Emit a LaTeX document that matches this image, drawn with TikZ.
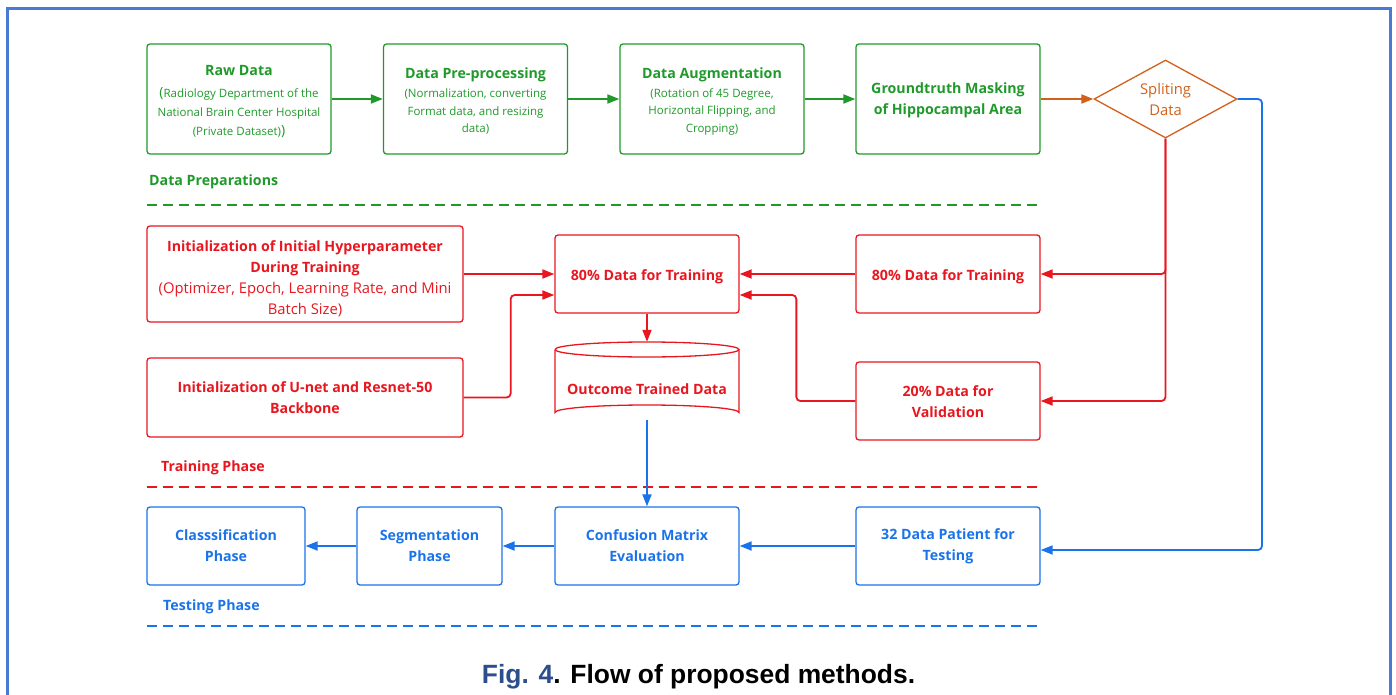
\documentclass[tikz,border=0pt]{standalone}
\usepackage{fontspec}
\setmainfont{Open Sans}
\newfontfamily\capfont{Liberation Sans}
\usetikzlibrary{arrows.meta,shapes.geometric}
\definecolor{cgreen}{HTML}{1F9A2A}
\definecolor{cred}{HTML}{E8161E}
\definecolor{cblue}{HTML}{1A73E8}
\definecolor{corange}{HTML}{D2601A}
\definecolor{cframe}{HTML}{4A7BD3}
\definecolor{cfig}{HTML}{2D4E8C}
\newcommand\tfont{\bfseries\fontsize{14.2}{21}\selectfont}
\newcommand\subfont{\fontsize{11.5}{19}\selectfont}
\newcommand\subfontb{\fontsize{11.5}{17.5}\selectfont}
\newcommand\up[1]{\rule{0pt}{#1pt}}
\tikzset{
  box/.style={draw, rounded corners=3pt, line width=1.3pt, align=center, inner sep=0pt},
  gbox/.style={box, draw=cgreen, text=cgreen, minimum width=184pt, minimum height=110pt},
  rbox/.style={box, draw=cred, text=cred, font=\tfont},
  bbox/.style={box, draw=cblue, text=cblue, font=\tfont, minimum height=78pt},
  conn/.style={line width=1.8pt, rounded corners=4pt, -{Triangle[length=12pt,width=9pt]}},
  phaselabel/.style={anchor=west, inner sep=0pt, font=\tfont},
  sep/.style={line width=2.4pt, dash pattern=on 10pt off 6pt}
}
\begin{document}
\begin{tikzpicture}[x=1pt,y=-1pt]
\useasboundingbox (0,0) rectangle (1396,695);
% outer frame
\draw[cframe, line width=2.4pt] (7.5,700) -- (7.5,8.5) -- (1390.5,8.5) -- (1390.5,700);

% ---- Data preparations ----
\node[gbox, font=\subfont] (raw) at (239,99)
  {{\tfont\up{16}Raw Data}\\[3pt]{\fontsize{14}{19}\selectfont(}Radiology Department of the\\National Brain Center Hospital\\(Private Dataset){\fontsize{14}{19}\selectfont)}};
\node[gbox, font=\subfontb] (pre) at (475.5,99)
  {{\tfont\up{15}Data Pre-processing}\\[1.5pt](Normalization, converting\\Format data, and resizing\\data)};
\node[gbox, font=\subfontb] (aug) at (712,99)
  {{\tfont\up{15}Data Augmentation}\\[1.5pt](Rotation of 45 Degree,\\Horizontal Flipping, and\\Cropping)};
\node[gbox, font=\tfont] (gt) at (948,99)
  {\up{12.5}Groundtruth Masking\\of Hippocampal Area};
\node[draw=corange, text=corange, diamond, line width=1.3pt, inner sep=0pt,
      minimum width=143pt, minimum height=78pt, aspect=1.83, align=center,
      font=\fontsize{14.8}{21}\selectfont] (split) at (1165.5,99) {Spliting\\Data};

\draw[conn, cgreen] (raw.east) -- (pre.west);
\draw[conn, cgreen] (pre.east) -- (aug.west);
\draw[conn, cgreen] (aug.east) -- (gt.west);
\draw[conn, corange] (gt.east) -- (split.west);

\node[phaselabel, text=cgreen] (lprep) at (149,182) {Data Preparations};
\coordinate (gsa) at (147,205);
\coordinate (gsb) at (1040,205);
\draw[sep, cgreen] (gsa) -- (gsb);

% ---- Training phase ----
\node[rbox, minimum width=316pt, minimum height=96pt] (hyp) at (305,274)
  {\up{20}Initialization of Initial Hyperparameter\\During Training\\{\mdseries\fontsize{14.8}{21}\selectfont (Optimizer, Epoch, Learning Rate, and Mini}\\{\mdseries\fontsize{14.8}{21}\selectfont Batch Size)}};
\node[rbox, minimum width=316pt, minimum height=79pt] (unet) at (305,397.5)
  {Initialization of U-net and Resnet-50\\Backbone};
\node[rbox, minimum width=184pt, minimum height=78pt] (trc) at (647,274) {\up{16.2}80\% Data for Training};
\node[rbox, minimum width=184pt, minimum height=78pt] (trr) at (948,274) {\up{16.2}80\% Data for Training};
\node[rbox, minimum width=184pt, minimum height=78pt] (val) at (948,401) {\up{12.5}20\% Data for\\Validation};
% cylinder
\node[inner sep=0pt, minimum width=184pt, minimum height=62pt, text=cred, font=\tfont] (cyl) at (647,389) {Outcome Trained Data};
\draw[cred, line width=1.3pt] (555,349.5) arc[start angle=180, end angle=-180, x radius=92, y radius=7.5];
\draw[cred, line width=1.3pt] (555,349.5) -- (555,412.5) arc[start angle=180, end angle=360, x radius=92, y radius=7.5] -- (739,349.5);

\draw[conn, cred] (hyp.east) -- (trc.west);
\draw[conn, cred] (unet.east) -- ++(47,0) |- ([yshift=-21pt]trc.west);
\draw[conn, cred] (trc.south) -- ([yshift=16pt]cyl.north);
\draw[conn, cred] (trr.west) -- (trc.east);
\draw[conn, cred] (val.west) -- ++(-59,0) |- ([yshift=-21pt]trc.east);
\draw[conn, cred] (split.south) |- (trr.east);
\draw[conn, cred] (split.south) |- (val.east);

\node[phaselabel, text=cred] (ltrain) at (161,468) {Training Phase};
\coordinate (rsa) at (147,487);
\coordinate (rsb) at (1040,487);
\draw[sep, cred] (rsa) -- (rsb);

% ---- Testing phase ----
\node[bbox, minimum width=158pt] (cls) at (226,546) {Classsification\\Phase};
\node[bbox, minimum width=145pt] (seg) at (429.5,546) {Segmentation\\Phase};
\node[bbox, minimum width=184pt] (conf) at (647,546) {Confusion Matrix\\Evaluation};
\node[bbox, minimum width=184pt] (test) at (948,546) {\up{12}32 Data Patient for\\Testing};

\draw[conn, cblue] (cyl.south) -- (conf.north);
\draw[conn, cblue] (test.west) -- (conf.east);
\draw[conn, cblue] (conf.west) -- (seg.east);
\draw[conn, cblue] (seg.west) -- (cls.east);
\coordinate (bturn) at (1262,99);
\draw[conn, cblue] (split.east) -- (bturn) |- ([yshift=-4pt]test.east);

\node[phaselabel, text=cblue] (ltest) at (163,607) {Testing Phase};
\coordinate (bsa) at (147,626);
\coordinate (bsb) at (1040,626);
\draw[sep, cblue] (bsa) -- (bsb);

% caption
\node[font=\capfont\bfseries\fontsize{26.4}{30}\selectfont, inner sep=0pt] (cap) at (698.5,677)
  {\textcolor{cfig}{Fig. 4}. Flow of proposed methods.};
\end{tikzpicture}
\end{document}
